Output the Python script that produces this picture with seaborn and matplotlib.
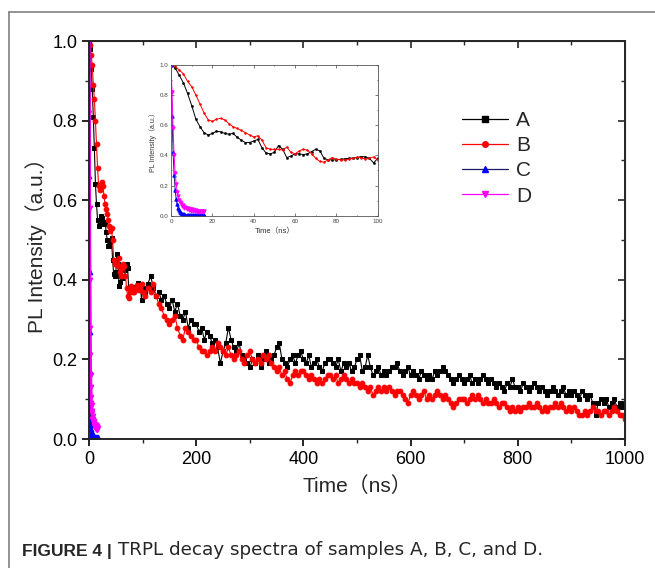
import matplotlib
matplotlib.use("Agg")
import matplotlib.pyplot as plt
from matplotlib.lines import Line2D
from matplotlib.ticker import MultipleLocator
import numpy as np
import pandas as pd
import seaborn as sns

# ---- data ----
# samples A and B, first 100 ns in 2 ns steps
t_early = np.arange(0, 100, 2)
a_early = [1.0, 0.98, 0.93, 0.88, 0.81, 0.73, 0.64, 0.59, 0.55, 0.535,
           0.545, 0.56, 0.556, 0.545, 0.54, 0.545, 0.52, 0.50, 0.485, 0.485,
           0.495, 0.505, 0.45, 0.415, 0.41, 0.42, 0.465, 0.44, 0.385, 0.395,
           0.41, 0.41, 0.405, 0.41, 0.425, 0.44, 0.43, 0.38, 0.37, 0.37,
           0.37, 0.373, 0.377, 0.38, 0.382, 0.385, 0.392, 0.39, 0.38, 0.35]
b_early = [1.0, 0.99, 0.965, 0.94, 0.89, 0.855, 0.80, 0.74, 0.68, 0.635,
           0.625, 0.64, 0.645, 0.635, 0.61, 0.59, 0.578, 0.565, 0.55, 0.535,
           0.522, 0.53, 0.50, 0.45, 0.44, 0.44, 0.44, 0.435, 0.455, 0.42,
           0.41, 0.43, 0.44, 0.435, 0.41, 0.38, 0.36, 0.355, 0.37, 0.385,
           0.375, 0.37, 0.37, 0.375, 0.38, 0.388, 0.385, 0.375, 0.38, 0.39]

# samples A and B, 100-1000 ns in 5 ns steps
t_late = np.arange(100, 1001, 5)
a_late = [0.38, 0.37, 0.39, 0.41, 0.38, 0.36, 0.37, 0.35, 0.36, 0.34,
          0.33, 0.35, 0.32, 0.34, 0.31, 0.30, 0.32, 0.28, 0.30, 0.29,
          0.29, 0.27, 0.28, 0.25, 0.27, 0.26, 0.24, 0.25, 0.23, 0.19,
          0.22, 0.24, 0.28, 0.25, 0.23, 0.22, 0.24, 0.21, 0.20, 0.19,
          0.18, 0.20, 0.19, 0.21, 0.18, 0.20, 0.22, 0.19, 0.20, 0.21,
          0.23, 0.24, 0.20, 0.19, 0.18, 0.20, 0.21, 0.19, 0.21, 0.22,
          0.20, 0.19, 0.21, 0.18, 0.19, 0.20, 0.18, 0.17, 0.19, 0.20,
          0.20, 0.19, 0.18, 0.20, 0.17, 0.19, 0.18, 0.19, 0.17, 0.18,
          0.20, 0.21, 0.17, 0.18, 0.21, 0.18, 0.16, 0.17, 0.18, 0.16,
          0.17, 0.16, 0.17, 0.18, 0.18, 0.19, 0.17, 0.16, 0.17, 0.18,
          0.16, 0.17, 0.16, 0.15, 0.17, 0.16, 0.15, 0.16, 0.15, 0.17,
          0.16, 0.17, 0.18, 0.17, 0.16, 0.15, 0.14, 0.15, 0.16, 0.15,
          0.14, 0.15, 0.16, 0.14, 0.15, 0.14, 0.15, 0.16, 0.15, 0.14,
          0.15, 0.14, 0.13, 0.14, 0.13, 0.12, 0.14, 0.13, 0.15, 0.13,
          0.13, 0.12, 0.14, 0.13, 0.12, 0.13, 0.14, 0.13, 0.12, 0.13,
          0.12, 0.11, 0.12, 0.13, 0.12, 0.11, 0.12, 0.13, 0.11, 0.12,
          0.11, 0.12, 0.11, 0.10, 0.12, 0.11, 0.10, 0.11, 0.09, 0.06,
          0.09, 0.10, 0.09, 0.10, 0.08, 0.09, 0.10, 0.08, 0.09, 0.08,
          0.09]
b_late = [0.37, 0.36, 0.38, 0.37, 0.39, 0.36, 0.34, 0.33, 0.31, 0.30,
          0.29, 0.30, 0.31, 0.28, 0.26, 0.25, 0.28, 0.27, 0.26, 0.25,
          0.25, 0.23, 0.22, 0.22, 0.21, 0.22, 0.23, 0.22, 0.24, 0.23,
          0.22, 0.21, 0.23, 0.21, 0.20, 0.21, 0.22, 0.20, 0.19, 0.21,
          0.22, 0.20, 0.19, 0.20, 0.19, 0.21, 0.20, 0.21, 0.19, 0.18,
          0.17, 0.18, 0.16, 0.17, 0.15, 0.14, 0.16, 0.17, 0.16, 0.17,
          0.17, 0.16, 0.15, 0.16, 0.15, 0.14, 0.15, 0.14, 0.15, 0.16,
          0.16, 0.15, 0.16, 0.14, 0.15, 0.16, 0.15, 0.14, 0.15, 0.14,
          0.14, 0.13, 0.14, 0.13, 0.12, 0.13, 0.11, 0.12, 0.13, 0.12,
          0.13, 0.12, 0.13, 0.12, 0.11, 0.12, 0.12, 0.11, 0.10, 0.09,
          0.11, 0.12, 0.11, 0.10, 0.11, 0.12, 0.10, 0.11, 0.10, 0.11,
          0.12, 0.11, 0.10, 0.11, 0.10, 0.09, 0.08, 0.09, 0.10, 0.10,
          0.10, 0.09, 0.10, 0.11, 0.10, 0.11, 0.10, 0.09, 0.10, 0.09,
          0.09, 0.10, 0.09, 0.08, 0.09, 0.09, 0.08, 0.07, 0.08, 0.07,
          0.08, 0.07, 0.08, 0.08, 0.09, 0.08, 0.08, 0.09, 0.08, 0.07,
          0.08, 0.07, 0.08, 0.08, 0.09, 0.08, 0.09, 0.08, 0.07, 0.08,
          0.07, 0.08, 0.07, 0.06, 0.06, 0.07, 0.06, 0.07, 0.08, 0.07,
          0.07, 0.06, 0.07, 0.07, 0.06, 0.07, 0.08, 0.07, 0.06, 0.06,
          0.05]

# samples C and D, fast decays in 0.5 ns steps
t_fast = np.arange(0, 16.01, 0.5)
c_vals = [1.0, 0.66, 0.42, 0.27, 0.17, 0.11, 0.075, 0.05, 0.035, 0.025,
          0.018, 0.014, 0.011, 0.009, 0.008, 0.007, 0.006, 0.005, 0.006, 0.004,
          0.005, 0.004, 0.006, 0.003, 0.005, 0.004, 0.003, 0.005, 0.004, 0.003,
          0.004, 0.003, 0.004]
d_vals = [1.0, 0.82, 0.58, 0.40, 0.28, 0.21, 0.16, 0.13, 0.105, 0.09,
          0.085, 0.065, 0.07, 0.05, 0.058, 0.044, 0.05, 0.038, 0.045, 0.034,
          0.042, 0.03, 0.038, 0.028, 0.036, 0.026, 0.034, 0.024, 0.032, 0.022,
          0.03, 0.022, 0.028]

slow = pd.DataFrame({
    "time": np.concatenate([t_early, t_late]),
    "A": a_early + a_late,
    "B": b_early + b_late,
})
fast = pd.DataFrame({"time": t_fast, "C": c_vals, "D": d_vals})

series = [
    ("A", slow, dict(color="black", marker="s", mfc="black", mec="black")),
    ("B", slow, dict(color="red", marker="o", mfc="red", mec="red")),
    ("C", fast, dict(color="#1a1a66", marker="^", mfc="blue", mec="blue")),
    ("D", fast, dict(color="magenta", marker="v", mfc="magenta", mec="magenta")),
]

sns.set_style("ticks")
plt.rcParams["font.family"] = ["Liberation Sans", "Noto Sans CJK SC", "DejaVu Sans"]

fig = plt.figure(figsize=(6.55, 5.68), dpi=100)

# ---- main axes ----
ax = fig.add_axes([0.1359, 0.2271, 0.8183, 0.7007])
for name, df, st in series:
    lw = 0.8 if name in "AB" else 2.2
    sns.lineplot(data=df, x="time", y=name, ax=ax, estimator=None, legend=False,
                 sort=False, linewidth=lw, markersize=3.4, **st)

ax.set_xlim(0, 1000)
ax.set_ylim(0, 1.0)
ax.xaxis.set_major_locator(MultipleLocator(200))
ax.xaxis.set_minor_locator(MultipleLocator(100))
ax.yaxis.set_major_locator(MultipleLocator(0.2))
ax.yaxis.set_minor_locator(MultipleLocator(0.1))
ax.tick_params(which="major", direction="out", length=5, width=1.2,
               labelsize=13, colors="black")
ax.tick_params(which="minor", direction="out", length=3, width=1.0)
for sp in ax.spines.values():
    sp.set_linewidth(1.4)
    sp.set_visible(True)

top = ax.secondary_xaxis("top")
top.xaxis.set_major_locator(MultipleLocator(200))
top.xaxis.set_minor_locator(MultipleLocator(100))
top.tick_params(which="major", direction="in", length=5, width=1.2, labeltop=False)
top.tick_params(which="minor", direction="in", length=3, width=1.0)
right = ax.secondary_yaxis("right")
right.yaxis.set_major_locator(MultipleLocator(0.2))
right.yaxis.set_minor_locator(MultipleLocator(0.1))
right.tick_params(which="major", direction="in", length=5, width=1.2, labelright=False)
right.tick_params(which="minor", direction="in", length=3, width=1.0)

ax.set_xlabel("Time（ns）", fontsize=15, labelpad=6)
ax.set_ylabel("PL Intensity（a.u.）", fontsize=15, labelpad=4)

# legend with thin lines, one marker per entry
handles = [Line2D([], [], linewidth=0.9, markersize=4, **st) for _, _, st in series]
labels = [name for name, _, _ in series]
ax.legend(handles, labels, loc="upper left", bbox_to_anchor=(462 / 655, 1 - 111 / 568),
          bbox_transform=fig.transFigure, frameon=False, fontsize=15,
          handlelength=2.2, handletextpad=0.4, labelspacing=0.3,
          borderpad=0, borderaxespad=0, numpoints=1)

# ---- inset ----
ins = fig.add_axes([0.2611, 0.6202, 0.3156, 0.2658])
for name, df, st in series:
    sns.lineplot(data=df, x="time", y=name, ax=ins, estimator=None, sort=False,
                 legend=False, linewidth=0.7, markersize=1.0 if name in "AB" else 2.4,
                 **st)
ins.set_xlim(0, 100)
ins.set_ylim(0, 1.0)
ins.xaxis.set_major_locator(MultipleLocator(20))
ins.yaxis.set_major_locator(MultipleLocator(0.2))
ins.xaxis.set_minor_locator(MultipleLocator(10))
ins.yaxis.set_minor_locator(MultipleLocator(0.1))
ins.tick_params(which="both", direction="in", top=True, right=True,
                length=2, width=0.5, labelsize=4.5, colors="#444444", pad=2)
ins.tick_params(which="minor", length=1)
for sp in ins.spines.values():
    sp.set_linewidth(0.6)
    sp.set_color("#555555")
    sp.set_visible(True)
ins.set_xlabel("Time（ns）", fontsize=5.5, labelpad=3, color="#333333")
ins.set_ylabel("PL Intensity（a.u.）", fontsize=5, labelpad=2, color="#333333")

# ---- page frame and caption ----
fig.add_artist(Line2D([9 / 655, 1], [1 - 12 / 568] * 2, transform=fig.transFigure,
                      color="#808080", linewidth=1.2))
fig.add_artist(Line2D([9 / 655] * 2, [0, 1 - 12 / 568], transform=fig.transFigure,
                      color="#808080", linewidth=1.2))

cap = fig.text(22 / 655, 1 - 559 / 568, "FIGURE 4 |", fontsize=12.5,
               fontweight="bold", va="bottom")
ax.annotate(" TRPL decay spectra of samples A, B, C, and D.", xy=(1, 0),
            xycoords=cap, va="bottom", ha="left", fontsize=13.2,
            family=["DejaVu Sans"], annotation_clip=False)

fig.savefig("out.png", dpi=100)
